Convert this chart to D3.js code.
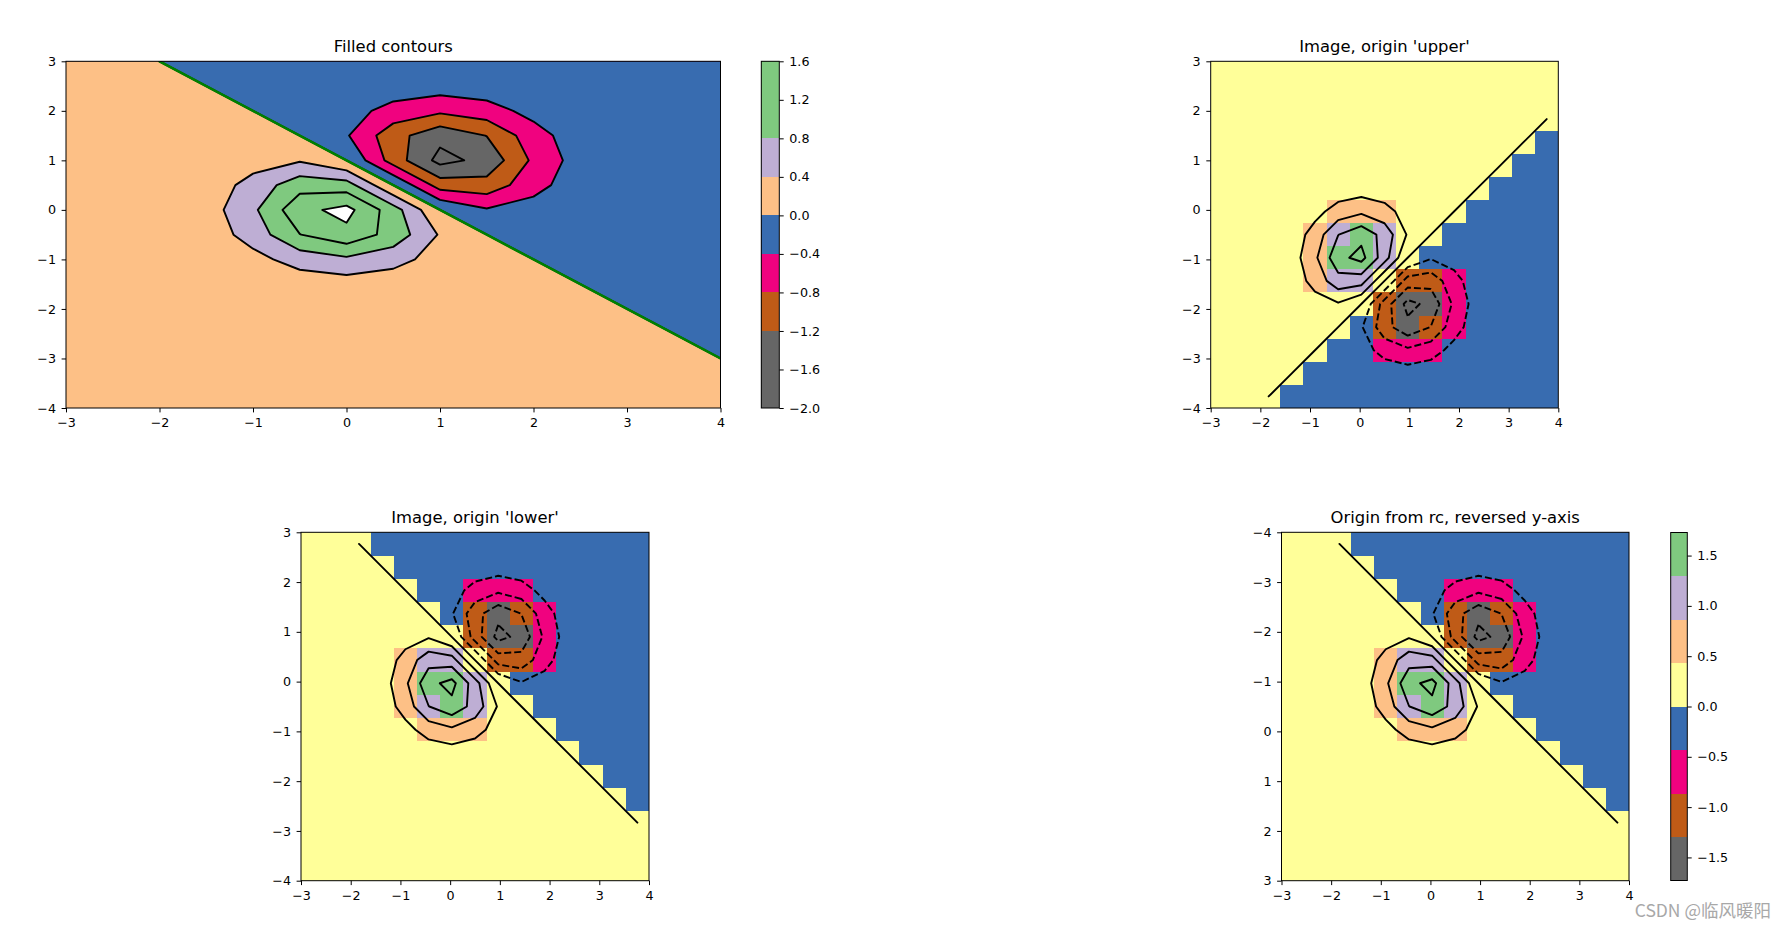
<!DOCTYPE html>
<html><head><meta charset="utf-8">
<script src="https://cdn.jsdelivr.net/npm/d3@7"></script>
<style>
body{margin:0;background:#fff;}
svg text{font-family:"DejaVu Sans",sans-serif;}
</style></head><body>
<svg id="chart" width="1785" height="925"></svg>
<script>
// ---------------- data ----------------
const gridX = [-3,-2.5,-2,-1.5,-1,-0.5,0,0.5,1,1.5,2,2.5,3,3.5,4];
const gridY = [-4,-3.5,-3,-2.5,-2,-1.5,-1,-0.5,0,0.5,1,1.5,2,2.5,3];
// Z[i][j] : row i <-> gridY[i], column j <-> gridX[j]
const Z = [
 [2.8e-11,4.3e-10,4.1e-9,2.4e-8,8.3e-8,1.8e-7,2.3e-7,1.8e-7,8.3e-8,2.4e-8,4.1e-9,4.3e-10,2.7e-11,1.0e-12,2.2e-14],
 [1.2e-9,1.8e-8,1.8e-7,1.0e-6,3.5e-6,7.5e-6,9.6e-6,7.5e-6,3.5e-6,1.0e-6,1.8e-7,1.8e-8,1.1e-9,4.0e-11,7.0e-13],
 [3.0e-8,4.8e-7,4.5e-6,2.6e-5,9.1e-5,1.9e-4,2.5e-4,1.9e-4,9.1e-5,2.6e-5,4.4e-6,4.5e-7,2.6e-8,7.5e-10,0],
 [4.8e-7,7.5e-6,7.1e-5,4.1e-4,0.0014,0.003,0.0039,0.003,0.0014,4.0e-4,6.7e-5,6.4e-6,3.0e-7,0,-7.5e-10],
 [4.5e-6,7.1e-5,6.7e-4,0.0039,0.0135,0.0285,0.0365,0.0283,0.0132,0.0037,5.8e-4,4.5e-5,0,-3.0e-7,-2.6e-8],
 [2.6e-5,4.1e-4,0.0039,0.0222,0.0775,0.1638,0.2094,0.1612,0.0737,0.0192,0.0024,0,-4.5e-5,-6.4e-6,-4.5e-7],
 [9.1e-5,0.0014,0.0135,0.0775,0.2700,0.5691,0.7223,0.5445,0.2340,0.0490,0,-0.0024,-5.8e-4,-6.7e-5,-4.4e-6],
 [1.9e-4,0.003,0.0285,0.1638,0.5691,1.1908,1.4801,1.0489,0.3622,0,-0.0490,-0.0192,-0.0037,-4.0e-4,-2.6e-5],
 [2.5e-4,0.0039,0.0365,0.2094,0.7223,1.4801,1.7293,0.9846,0,-0.3622,-0.2340,-0.0737,-0.0132,-0.0014,-9.1e-5],
 [1.9e-4,0.003,0.0283,0.1612,0.5445,1.0489,0.9846,0,-0.9846,-1.0489,-0.5445,-0.1612,-0.0283,-0.003,-1.9e-4],
 [9.1e-5,0.0014,0.0132,0.0737,0.2340,0.3622,0,-0.9846,-1.7293,-1.4801,-0.7223,-0.2094,-0.0365,-0.0039,-2.5e-4],
 [2.6e-5,4.0e-4,0.0037,0.0192,0.0490,0,-0.3622,-1.0489,-1.4801,-1.1908,-0.5691,-0.1638,-0.0285,-0.003,-1.9e-4],
 [4.4e-6,6.7e-5,5.8e-4,0.0024,0,-0.0490,-0.2340,-0.5445,-0.7223,-0.5691,-0.2700,-0.0775,-0.0135,-0.0014,-9.1e-5],
 [4.5e-7,6.4e-6,4.5e-5,0,-0.0024,-0.0192,-0.0737,-0.1612,-0.2094,-0.1638,-0.0775,-0.0222,-0.0039,-4.1e-4,-2.6e-5],
 [2.6e-8,3.0e-7,0,-4.5e-5,-5.8e-4,-0.0037,-0.0132,-0.0283,-0.0365,-0.0285,-0.0135,-0.0039,-6.7e-4,-7.1e-5,-4.5e-6]
];
const imageExtent = [-3, 4, -4, 3];
const levels = [-2.0,-1.6,-1.2,-0.8,-0.4,0.0,0.4,0.8,1.2,1.6];
const bandColors = ["#666666","#666666","#bf5b17","#f0027f","#386cb0","#fdc086","#beaed4","#7fc97f","#7fc97f"];
const palette = ["#666666","#bf5b17","#f0027f","#386cb0","#ffff99","#fdc086","#beaed4","#7fc97f"];
const xTicks = [-3,-2,-1,0,1,2,3,4];
const yTicks = [-4,-3,-2,-1,0,1,2,3];
const cbar2Ticks = [-1.5,-1.0,-0.5,0.0,0.5,1.0,1.5];
const titles = ["Filled contours","Image, origin 'upper'","Image, origin 'lower'","Origin from rc, reversed y-axis"];
const watermark = "CSDN @临风暖阳";

// ---------------- helpers ----------------
const svg = d3.select("#chart");
const N = 15;
const flatZ = Z.flat();
const vmax = d3.max(flatZ, v => Math.abs(v));
const colorScale = d3.scaleQuantize().domain([-vmax, vmax]).range(palette);
const TICK = 4.4, PAD = 5.6, TFS = "12.7px";
const fmtInt = d3.format("d"), fmt1 = d3.format(".1f");
let clipId = 0;

function addClip(b) {
  const id = "clip" + (clipId++);
  svg.append("clipPath").attr("id", id).append("rect")
    .attr("x", b.x0).attr("y", b.y0).attr("width", b.x1 - b.x0).attr("height", b.y1 - b.y0);
  return "url(#" + id + ")";
}
function styleAxis(sel) {
  sel.select(".domain").remove();
  sel.selectAll("line").attr("stroke", "#000").attr("stroke-width", 1);
  sel.selectAll("text").attr("fill", "#000").style("font-size", TFS).style("font-family", "DejaVu Sans");
  sel.attr("font-family", null).attr("font-size", null);
}
function drawFrame(b, xs, ys, title) {
  const g = svg.append("g");
  g.append("rect").attr("x", b.x0).attr("y", b.y0).attr("width", b.x1 - b.x0).attr("height", b.y1 - b.y0)
    .attr("fill", "none").attr("stroke", "#000").attr("stroke-width", 1);
  g.append("g").attr("transform", `translate(0,${b.y1})`)
    .call(d3.axisBottom(xs).tickValues(xTicks).tickFormat(fmtInt).tickSize(TICK).tickPadding(PAD)).call(styleAxis);
  g.append("g").attr("transform", `translate(${b.x0},0)`)
    .call(d3.axisLeft(ys).tickValues(yTicks).tickFormat(fmtInt).tickSize(TICK).tickPadding(PAD)).call(styleAxis);
  g.append("text").attr("x", (b.x0 + b.x1) / 2).attr("y", b.y0 - 9).attr("text-anchor", "middle")
    .style("font-size", "16.4px").attr("fill", "#000").text(title);
}
// Contour lines (without grid-boundary closing segments)
function contourLines(t) {
  const mp = d3.contours().size([N, N]).thresholds([t])(flatZ)[0];
  const out = [];
  const isB = p => p[0] <= 0 || p[0] >= N || p[1] <= 0 || p[1] >= N;
  for (const poly of mp.coordinates) for (const ring of poly) {
    let pts = ring.slice();
    const a = pts[0], z = pts[pts.length - 1];
    if (pts.length > 1 && a[0] === z[0] && a[1] === z[1]) pts = pts.slice(0, -1);
    const n = pts.length;
    const bIdx = pts.findIndex(isB);
    if (bIdx < 0) { out.push({pts, closed: true}); continue; }
    let cur = [];
    for (let k = 1; k <= n; k++) {
      const p = pts[(bIdx + k) % n];
      if (isB(p)) { if (cur.length >= 2) out.push({pts: cur, closed: false}); cur = []; }
      else cur.push(p);
    }
    if (cur.length >= 2) out.push({pts: cur, closed: false});
  }
  return out;
}
function drawLines(g, gxToPx, gyToPx, t, opts) {
  const lines = contourLines(t);
  const lineOpen = d3.line().x(p => gxToPx(p[0])).y(p => gyToPx(p[1]));
  const lineClosed = d3.line().x(p => gxToPx(p[0])).y(p => gyToPx(p[1])).curve(d3.curveLinearClosed);
  lines.forEach(L => {
    g.append("path").attr("d", (L.closed ? lineClosed : lineOpen)(L.pts))
      .attr("fill", "none").attr("stroke", opts.color).attr("stroke-width", opts.width)
      .attr("stroke-linejoin", "round").attr("stroke-linecap", opts.dash ? "butt" : "round")
      .attr("stroke-dasharray", opts.dash || null);
  });
}

// ---------------- Plot 1: filled contours ----------------
{
  const b = {x0: 66, x1: 720.5, y0: 61.3, y1: 408};
  const xs = d3.scaleLinear().domain([xTicks[0], xTicks[xTicks.length - 1]]).range([b.x0, b.x1]);
  const ys = d3.scaleLinear().domain([yTicks[0], yTicks[yTicks.length - 1]]).range([b.y1, b.y0]);
  const gX = d3.scaleLinear().domain([0.5, N - 0.5]).range([gridX[0], gridX[N - 1]]);
  const gY = d3.scaleLinear().domain([0.5, N - 0.5]).range([gridY[0], gridY[N - 1]]);
  const px = c => xs(gX(c)), py = c => ys(gY(c));
  const g = svg.append("g").attr("clip-path", addClip(b));
  const proj = d3.geoTransform({point: function (x, y) { this.stream.point(px(x), py(y)); }});
  const path = d3.geoPath(proj);
  const fills = d3.contours().size([N, N]).thresholds(levels)(flatZ);
  fills.forEach((c, k) => {
    g.append("path").attr("d", path(c)).attr("fill", k < bandColors.length ? bandColors[k] : "#ffffff")
      .attr("stroke", "none");
  });
  levels.forEach(t => drawLines(g, px, py, t, {color: "#000", width: 1.9}));
  drawLines(g, px, py, 0, {color: "#008000", width: 2.6});
  drawFrame(b, xs, ys, titles[0]);

  // colorbar 1
  const cb = {x0: 761.3, x1: 779.3, y0: 61.3, y1: 408};
  const cs = d3.scaleLinear().domain([levels[0], levels[levels.length - 1]]).range([cb.y1, cb.y0]);
  const cg = svg.append("g");
  for (let k = 0; k < levels.length - 1; k++) {
    cg.append("rect").attr("x", cb.x0).attr("width", cb.x1 - cb.x0)
      .attr("y", cs(levels[k + 1])).attr("height", cs(levels[k]) - cs(levels[k + 1]))
      .attr("fill", bandColors[k]).attr("shape-rendering", "crispEdges");
  }
  cg.append("rect").attr("x", cb.x0).attr("y", cb.y0).attr("width", cb.x1 - cb.x0).attr("height", cb.y1 - cb.y0)
    .attr("fill", "none").attr("stroke", "#000").attr("stroke-width", 1);
  cg.append("g").attr("transform", `translate(${cb.x1},0)`)
    .call(d3.axisRight(cs).tickValues(levels).tickFormat(fmt1).tickSize(TICK).tickPadding(PAD)).call(styleAxis);
}

// ---------------- Image panels ----------------
function imagePanel(b, origin, reversedY, title) {
  const xs = d3.scaleLinear().domain([xTicks[0], xTicks[xTicks.length - 1]]).range([b.x0, b.x1]);
  const ys = d3.scaleLinear().domain([yTicks[0], yTicks[yTicks.length - 1]])
    .range(reversedY ? [b.y0, b.y1] : [b.y1, b.y0]);
  const gX = d3.scaleLinear().domain([0, N]).range([imageExtent[0], imageExtent[1]]);
  const gY = d3.scaleLinear().domain([0, N])
    .range(origin === "upper" ? [imageExtent[3], imageExtent[2]] : [imageExtent[2], imageExtent[3]]);
  const px = c => xs(gX(c)), py = c => ys(gY(c));
  const g = svg.append("g").attr("clip-path", addClip(b));
  Z.forEach((row, i) => row.forEach((v, j) => {
    const xa = px(j), xb = px(j + 1), ya = py(i), yb = py(i + 1);
    g.append("rect").attr("x", Math.min(xa, xb)).attr("y", Math.min(ya, yb))
      .attr("width", Math.abs(xb - xa)).attr("height", Math.abs(yb - ya))
      .attr("fill", colorScale(v)).attr("shape-rendering", "crispEdges");
  }));
  levels.forEach(t => drawLines(g, px, py, t, {color: "#000", width: 1.9, dash: t < 0 ? "7,3" : null}));
  drawFrame(b, xs, ys, title);
}
imagePanel({x0: 1210.7, x1: 1558.3, y0: 61.3, y1: 408}, "upper", false, titles[1]);
imagePanel({x0: 301, x1: 649, y0: 532.3, y1: 880.7}, "lower", false, titles[2]);
imagePanel({x0: 1281.5, x1: 1629, y0: 532.3, y1: 880.7}, "upper", true, titles[3]);

// colorbar 2
{
  const cb = {x0: 1670.7, x1: 1687.3, y0: 532.5, y1: 880.5};
  const cs = d3.scaleLinear().domain([-vmax, vmax]).range([cb.y1, cb.y0]);
  const cg = svg.append("g");
  palette.forEach(c => {
    const [lo, hi] = colorScale.invertExtent(c);
    cg.append("rect").attr("x", cb.x0).attr("width", cb.x1 - cb.x0)
      .attr("y", cs(hi)).attr("height", cs(lo) - cs(hi)).attr("fill", c).attr("shape-rendering", "crispEdges");
  });
  cg.append("rect").attr("x", cb.x0).attr("y", cb.y0).attr("width", cb.x1 - cb.x0).attr("height", cb.y1 - cb.y0)
    .attr("fill", "none").attr("stroke", "#000").attr("stroke-width", 1);
  cg.append("g").attr("transform", `translate(${cb.x1},0)`)
    .call(d3.axisRight(cs).tickValues(cbar2Ticks).tickFormat(fmt1).tickSize(TICK).tickPadding(PAD)).call(styleAxis);
}

// watermark
svg.append("text").attr("x", 1771).attr("y", 917).attr("text-anchor", "end")
  .style("font-family", "'Noto Sans CJK SC','Noto Sans',sans-serif").style("font-size", "17.5px")
  .attr("fill", "#a8a8a8").text(watermark);
</script>
</body></html>
